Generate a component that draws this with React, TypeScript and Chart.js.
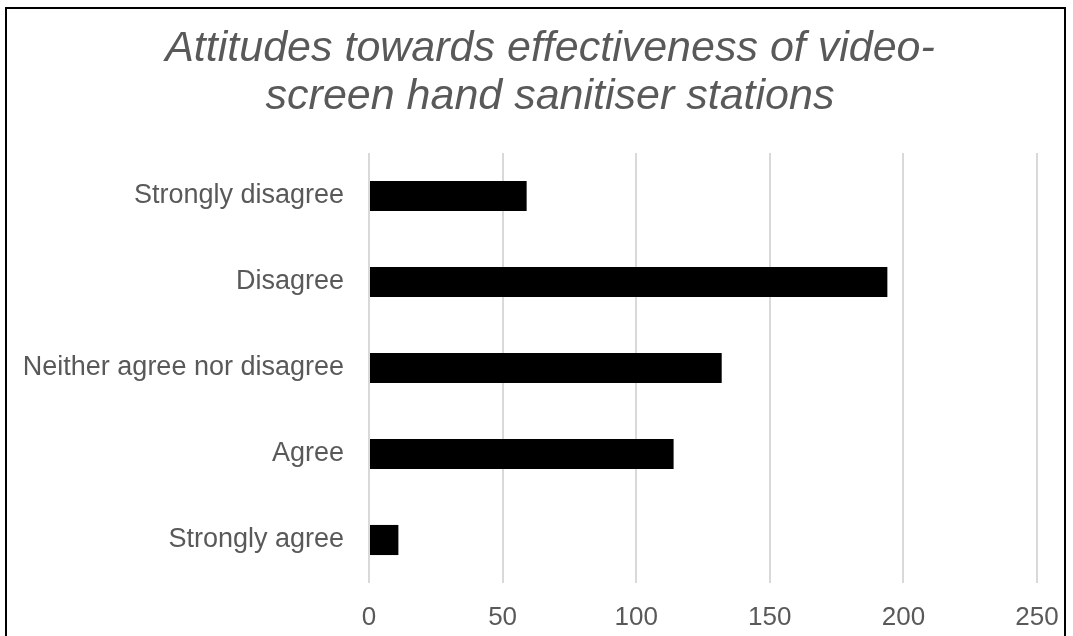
import React, { useEffect, useRef } from "react";
import { Chart, registerables } from "chart.js";

Chart.register(...registerables);

const titleLines = ["Attitudes towards effectiveness of video-", "screen hand sanitiser stations"];
const categories = ["Strongly disagree", "Disagree", "Neither agree nor disagree", "Agree", "Strongly agree"];
const responses = [59, 194, 132, 114, 11];
const xTicks = [0, 50, 100, 150, 200, 250];

const TEXT = "#595959";
const GRID = "#d9d9d9";
const FONT = "'Liberation Sans', Arial, sans-serif";

// shifts the title block so it is centred where the original one is
const titleShift = {
  id: "titleShift",
  afterLayout(chart: any) {
    const tb = chart.titleBlock;
    if (!tb) return;
    const dx = 28;
    tb.left += dx;
    tb.right += dx;
  },
};

export default function App() {
  const ref = useRef<HTMLCanvasElement | null>(null);

  useEffect(() => {
    document.body.style.margin = "0";
    document.body.style.overflow = "hidden";
    const canvas = ref.current;
    if (!canvas) return;
    const chart = new Chart(canvas, {
      type: "bar",
      data: {
        labels: categories,
        datasets: [
          {
            data: responses,
            backgroundColor: "#000000",
            borderWidth: 0,
            barPercentage: 0.35,
            categoryPercentage: 1,
          },
        ],
      },
      options: {
        indexAxis: "y",
        animation: false,
        responsive: false,
        maintainAspectRatio: false,
        layout: { padding: { left: 0, right: 27, top: 0, bottom: 0 } },
        plugins: {
          legend: { display: false },
          tooltip: { enabled: false },
          title: {
            display: true,
            text: titleLines,
            color: TEXT,
            font: { family: FONT, size: 43, style: "italic", weight: "normal", lineHeight: 1.116 },
            padding: { top: 16, bottom: 32 },
          },
        },
        scales: {
          x: {
            min: xTicks[0],
            max: xTicks[xTicks.length - 1],
            afterBuildTicks: (scale: any) => {
              scale.ticks = xTicks.map((v) => ({ value: v }));
            },
            afterFit: (scale: any) => {
              scale.height = 53;
              scale.paddingLeft = 0;
              scale.paddingRight = 0;
            },
            grid: { color: GRID, lineWidth: 2, drawTicks: false },
            border: { display: false },
            ticks: {
              color: TEXT,
              padding: 19,
              font: { family: FONT, size: 26 },
            },
          },
          y: {
            grid: { display: false, drawTicks: false },
            border: { display: false },
            afterFit: (scale: any) => {
              scale.width = 362;
            },
            ticks: {
              color: TEXT,
              padding: 25,
              font: { family: FONT, size: 27 },
            },
          },
        },
      },
      plugins: [titleShift],
    });
    return () => chart.destroy();
  }, []);

  return (
    <div
      style={{
        position: "absolute",
        left: 5,
        top: 7,
        width: 1061,
        height: 629,
        boxSizing: "border-box",
        borderTop: "2px solid #000",
        borderLeft: "2px solid #000",
        borderRight: "2px solid #000",
        background: "#fff",
      }}
    >
      <canvas ref={ref} width={1057} height={627} style={{ display: "block" }} />
    </div>
  );
}
